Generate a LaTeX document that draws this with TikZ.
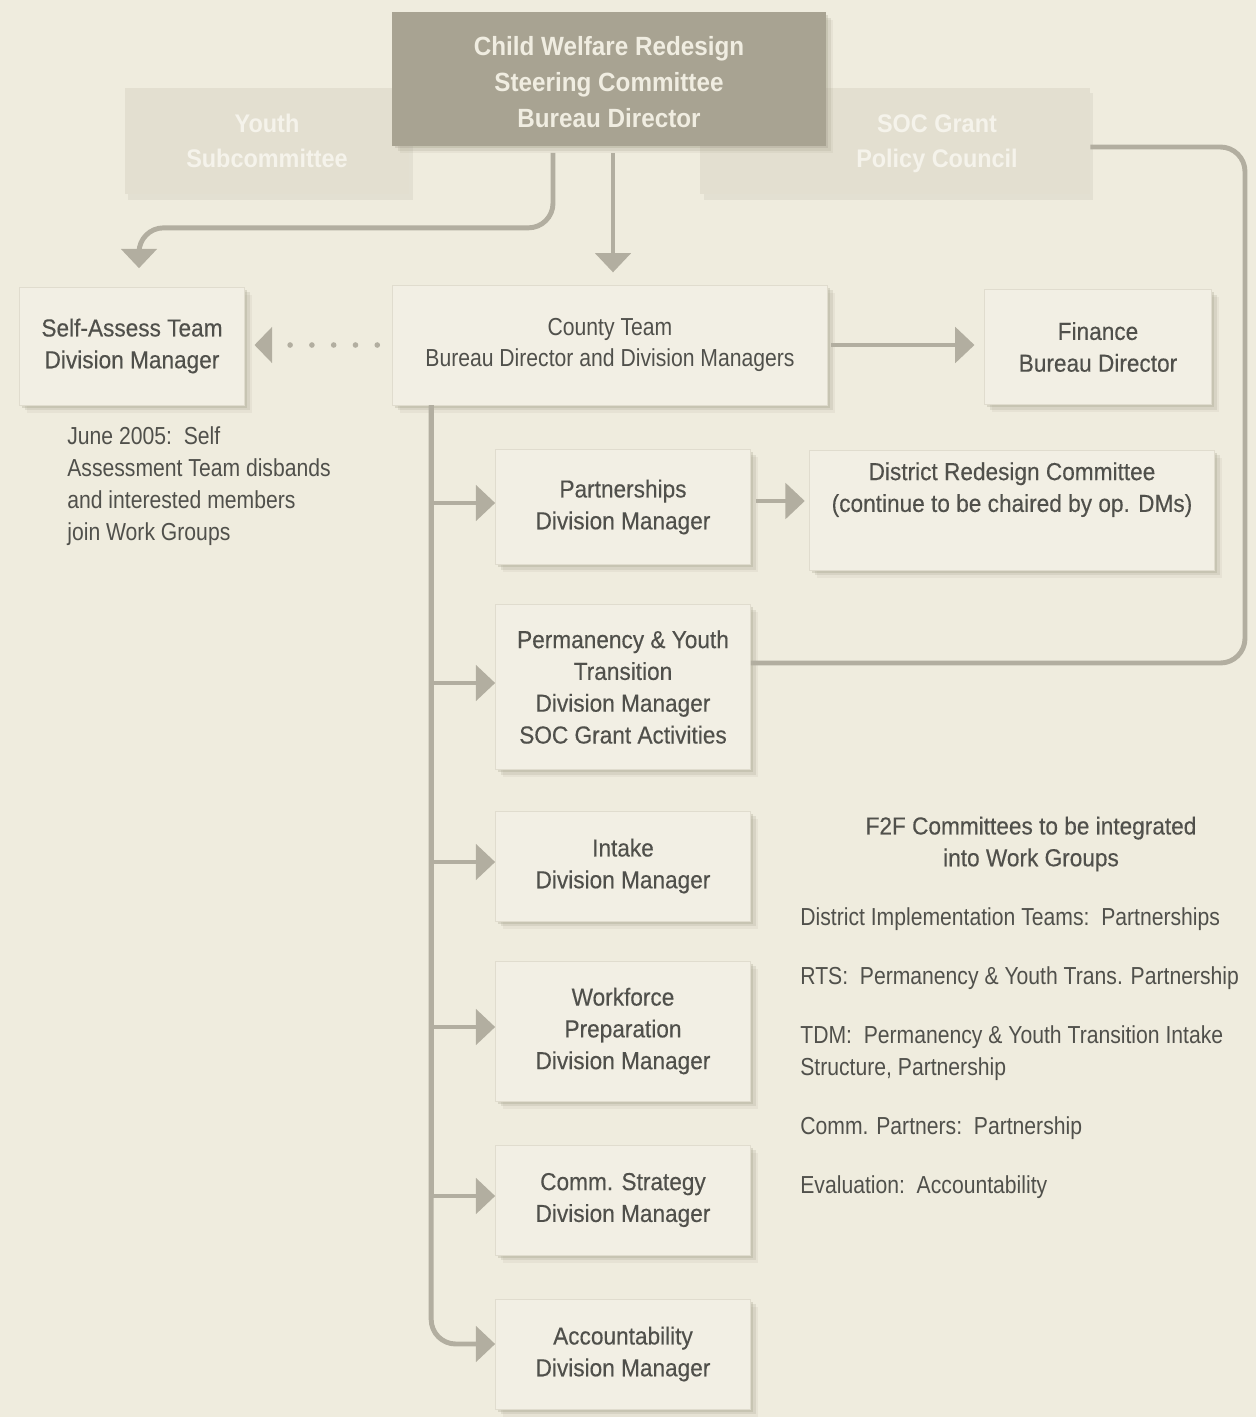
\documentclass[tikz,border=0pt]{standalone}
\usepackage{fontspec}
\setmainfont{Liberation Sans}[FakeStretch=0.92,UprightFeatures={FakeBold=0.3}]
\newfontfamily\narrowfont{Liberation Sans}[FakeStretch=0.86]
\usetikzlibrary{arrows.meta,shadows}
\definecolor{paper}{RGB}{239,236,222}
\definecolor{boxfill}{RGB}{242,239,228}
\definecolor{boxline}{RGB}{224,220,206}
\definecolor{shade}{RGB}{165,160,142}
\definecolor{wire}{RGB}{178,174,160}
\definecolor{ink}{RGB}{80,80,75}
\definecolor{headfill}{RGB}{168,163,146}
\definecolor{headink}{RGB}{240,237,225}
\definecolor{ghostfill}{RGB}{227,223,208}
\definecolor{ghostink}{RGB}{245,243,235}
\begin{document}
\begin{tikzpicture}[x=0.02cm,y=-0.02cm,
    every node/.style={text=ink,font=\fontsize{14}{18.1}\selectfont,align=center},
    box/.style={draw=boxline,line width=0.4pt,fill=boxfill,inner sep=0pt,
      drop shadow={shadow xshift=1.5pt,shadow yshift=-1.5pt,fill=shade,opacity=.3},
      drop shadow={shadow xshift=3pt,shadow yshift=-3pt,fill=shade,opacity=.22},
      drop shadow={shadow xshift=4.5pt,shadow yshift=-4.5pt,fill=shade,opacity=.12}},
    headbox/.style={box,fill=headfill,draw=headfill},
    headtext/.style={text=headink,font=\bfseries\fontsize{15}{20.4}\selectfont},
    ghostbox/.style={fill=ghostfill,inner sep=0pt,text=ghostink,
      font=\bfseries\fontsize{14.5}{20}\selectfont,
      drop shadow={shadow xshift=2pt,shadow yshift=-3pt,fill=shade,opacity=.15}},
    ghosttext/.style={text=ghostink,font=\bfseries\fontsize{14.5}{20}\selectfont},
    note/.style={font=\narrowfont\fontsize{14}{18.1}\selectfont,align=left,anchor=west,inner sep=0pt},
    flow/.style={draw=wire,line width=2.8pt,-{Triangle[length=11pt,width=20pt]}},
    link/.style={draw=wire,line width=2.8pt,rounded corners=14pt},
    dots/.style={draw=wire,line width=3.2pt,line cap=round,dash pattern=on 0pt off 12.4pt,
      -{Triangle[length=10pt,width=20pt]}}]
  \fill[paper] (0,0) rectangle (1256,1417);
  \node[ghostbox,minimum width=5.7cm,minimum height=2.14cm] (3) at (267,141) {Youth\\Subcommittee};
  \node[ghostbox,minimum width=7.8cm,minimum height=2.14cm,
    label={[ghosttext,xshift=0.84cm,yshift=-0.06cm]center:SOC Grant\\Policy Council}] (4) at (895,141) {};
  \node[headbox,minimum width=8.66cm,minimum height=2.66cm,
    label={[headtext,yshift=-0.06cm]center:Child Welfare Redesign\\Steering Committee\\Bureau Director}] (0) at (609,79) {};
  \node[box,minimum width=8.7cm,minimum height=2.4cm,font=\narrowfont\fontsize{14}{18.1}\selectfont] (1) at (610,345)
    {County Team\\Bureau Director and Division Managers};
  \node[box,minimum width=4.5cm,minimum height=2.36cm] (2) at (132,346) {Self-Assess Team\\Division Manager};
  \node[box,minimum width=4.54cm,minimum height=2.3cm] (5) at (1098,347) {Finance\\Bureau Director};
  \node[box,minimum width=5.1cm,minimum height=2.3cm] (6) at (623,507) {Partnerships\\Division Manager};
  \node[box,minimum width=8.1cm,minimum height=2.4cm] (7) at (1012,510)
    {District Redesign Committee\\(continue to be chaired by op. DMs)\\[8pt]{}};
  \node[box,minimum width=5.1cm,minimum height=3.3cm] (8) at (623,687)
    {Permanency \& Youth\\Transition\\Division Manager\\SOC Grant Activities};
  \node[box,minimum width=5.1cm,minimum height=2.2cm] (9) at (623,866) {Intake\\Division Manager};
  \node[box,minimum width=5.1cm,minimum height=2.8cm] (10) at (623,1031) {Workforce\\Preparation\\Division Manager};
  \node[box,minimum width=5.1cm,minimum height=2.2cm] (11) at (623,1200) {Comm. Strategy\\Division Manager};
  \node[box,minimum width=5.1cm,minimum height=2.2cm] (12) at (623,1354) {Accountability\\Division Manager};
  \node[note] (13) at (67,486) {June 2005:\ \ Self\\Assessment Team disbands\\and interested members\\join Work Groups};
  \node (14) at (1031,844) {F2F Committees to be integrated\\into Work Groups};
  \node[note] (15) at (800,919) {District Implementation Teams:\ \ Partnerships};
  \node[note] (16) at (800,978) {RTS:\ \ Permanency \& Youth Trans. Partnership};
  \node[note] (17) at (800,1053) {TDM:\ \ Permanency \& Youth Transition Intake\\Structure, Partnership};
  \node[note] (18) at (800,1128) {Comm. Partners:\ \ Partnership};
  \node[note] (19) at (800,1187) {Evaluation:\ \ Accountability};
  \coordinate (t) at ([xshift=0.78cm]1.south west);
  \coordinate (c) at (1245,663);
  \draw[flow,rounded corners=14pt,shorten <=4pt,shorten >=10.5pt] ([xshift=-1.12cm]0.south) -- ++(0,82) -| ([xshift=0.14cm]2.north);
  \draw[flow,shorten <=4pt,shorten >=7pt] ([xshift=0.08cm]0.south) to ([xshift=0.08cm]0.south |- 1.north);
  \draw[dots,shorten <=8.5pt,shorten >=5.5pt] (1.west) to (1.west -| 2.east);
  \draw[flow,shorten <=2pt,shorten >=5.5pt] (1.east) to (1.east -| 5.west);
  \draw[flow,shorten <=3pt,shorten >=2.5pt] ([yshift=0.12cm]6.east) to ([yshift=0.12cm]6.east -| 7.west);
  \draw[link] ([yshift=-0.12cm]4.east) -| (c) to (c -| 8.east);
  \foreach \n in {6,8,9,10,11}
    \draw[flow] (t) |- ([yshift=0.08cm]\n.west);
  \draw[flow,rounded corners=14pt] (t) |- ([yshift=0.2cm]12.west);
\end{tikzpicture}
\end{document}
